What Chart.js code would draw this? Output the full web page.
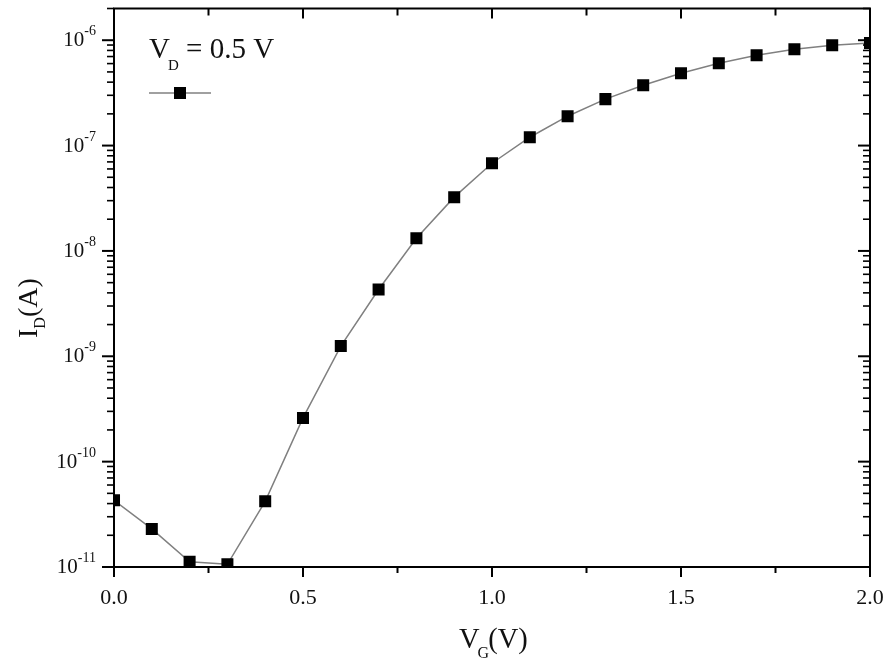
<!DOCTYPE html>
<html><head><meta charset="utf-8">
<script src="https://cdn.jsdelivr.net/npm/chart.js@4"></script>
<style>html,body{margin:0;padding:0;background:#fff}</style>
</head><body>
<canvas id="c" width="890" height="666"></canvas>
<script>
// ---- data ----
const vg = [0.0,0.1,0.2,0.3,0.4,0.5,0.6,0.7,0.8,0.9,1.0,1.1,1.2,1.3,1.4,1.5,1.6,1.7,1.8,1.9,2.0];
const idA = [4.3e-11,2.3e-11,1.12e-11,1.06e-11,4.2e-11,2.6e-10,1.25e-9,4.3e-9,1.32e-8,3.24e-8,6.8e-8,1.2e-7,1.9e-7,2.76e-7,3.74e-7,4.86e-7,6.05e-7,7.2e-7,8.2e-7,8.97e-7,9.4e-7];
const yDecades = [-11,-10,-9,-8,-7,-6];
const xMajorTicks = [0.0,0.5,1.0,1.5,2.0];
const xTickLabels = ['0.0','0.5','1.0','1.5','2.0'];
const xMinorTicks = [0.25,0.75,1.25,1.75];
const legendLabel = {main:'V', sub:'D', rest:' = 0.5 V'};

const FONT = '"Liberation Serif", "Times New Roman", serif';
const points = vg.map((v,i)=>({x:v,y:idA[i]}));

function drawSquare(ctx,x,y,s){ctx.fillStyle='#000';ctx.fillRect(x-s/2,y-s/2,s,s);}

const decor = {
  id:'decor',
  afterDraw(chart){
    const ctx = chart.ctx, a = chart.chartArea;
    const xs = chart.scales.x, ys = chart.scales.y;
    ctx.save();
    ctx.strokeStyle = '#000';
    ctx.lineWidth = 2;
    ctx.strokeRect(a.left, a.top, a.right-a.left, a.bottom-a.top);
    const tick = (x1,y1,x2,y2,w)=>{ctx.lineWidth=w;ctx.beginPath();ctx.moveTo(x1,y1);ctx.lineTo(x2,y2);ctx.stroke();};
    xMajorTicks.forEach(v=>{const px=xs.getPixelForValue(v);
      tick(px,a.bottom,px,a.bottom+10,2); tick(px,a.top,px,a.top+10,2);});
    xMinorTicks.forEach(v=>{const px=xs.getPixelForValue(v);
      tick(px,a.bottom,px,a.bottom+6,2); tick(px,a.top,px,a.top+7,2);});
    yDecades.forEach(d=>{
      for(let m=1;m<=9;m++){
        const val = m*Math.pow(10,d);
        if(val>ys.max*1.0001) break;
        const py = ys.getPixelForValue(val);
        const len = m===1?12:7;
        tick(a.left-len,py,a.left,py,m===1?2:1.6);
        tick(a.right,py,a.right-len,py,m===1?2:1.6);
      }
    });
    ctx.fillStyle = '#111';
    ctx.font = '22px '+FONT; ctx.textAlign='center'; ctx.textBaseline='alphabetic';
    xMajorTicks.forEach((v,i)=>{ctx.fillText(xTickLabels[i], xs.getPixelForValue(v), 604);});
    yDecades.forEach(d=>{
      const py = ys.getPixelForValue(Math.pow(10,d));
      const sup = String(d);
      ctx.font = '14px '+FONT;
      const ws = ctx.measureText(sup).width;
      ctx.font = '21px '+FONT;
      const wb = ctx.measureText('10').width;
      const right = 96;
      ctx.textAlign='left';
      ctx.fillText('10', right-ws-wb, py+6);
      ctx.font = '14px '+FONT;
      ctx.fillText(sup, right-ws, py-5);
    });
    ctx.textAlign='left';
    ctx.font='28.5px '+FONT;
    let x0 = 459, yb = 648;
    ctx.fillText('V', x0, yb); let w = ctx.measureText('V').width;
    ctx.font='16px '+FONT; ctx.fillText('G', x0+w-2, yb+10); let w2 = ctx.measureText('G').width;
    ctx.font='28.5px '+FONT; ctx.fillText('(V)', x0+w+w2-3, yb);
    ctx.save();
    ctx.translate(37, 338); ctx.rotate(-Math.PI/2);
    ctx.font='28px '+FONT; ctx.fillText('I', 0, 0); w = ctx.measureText('I').width;
    ctx.font='16px '+FONT; ctx.fillText('D', w, 8); w2 = ctx.measureText('D').width;
    ctx.font='28px '+FONT; ctx.fillText('(A)', w+w2, 0);
    ctx.restore();
    x0 = 149; yb = 58;
    ctx.font='29px '+FONT; ctx.fillText(legendLabel.main, x0, yb); w = ctx.measureText(legendLabel.main).width;
    ctx.font='15px '+FONT; ctx.fillText(legendLabel.sub, x0+w-2, yb+12); w2 = ctx.measureText(legendLabel.sub).width;
    ctx.font='29px '+FONT; ctx.fillText(legendLabel.rest, x0+w+w2-2, yb);
    ctx.strokeStyle='#808080'; tick(149,93,211,93,1.5);
    drawSquare(ctx,180,93,12);
    ctx.restore();
  }
};

new Chart(document.getElementById('c'),{
  type:'line',
  data:{datasets:[{
    data:points,
    borderColor:'#808080', borderWidth:1.5, tension:0,
    pointStyle:'rect', pointRadius:8.5, pointBackgroundColor:'#000', pointBorderColor:'#000', pointBorderWidth:0,
    clip:0
  }]},
  options:{
    responsive:false, animation:false, devicePixelRatio:1,
    layout:{padding:{left:0,right:20,top:8,bottom:0}},
    plugins:{legend:{display:false},tooltip:{enabled:false}},
    scales:{
      x:{type:'linear',min:0,max:2,ticks:{display:false,stepSize:0.25},grid:{display:false},border:{display:false},
         afterFit(s){s.height=99;}},
      y:{type:'logarithmic',min:1e-11,max:2e-6,ticks:{display:false},grid:{display:false},border:{display:false},
         afterFit(s){s.width=114;}}
    }
  },
  plugins:[decor]
});
</script>
</body></html>
